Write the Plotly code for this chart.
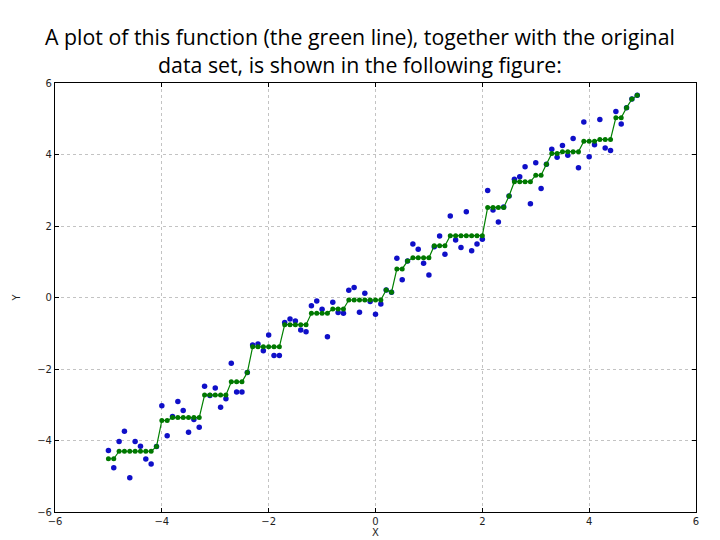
import plotly.graph_objects as go

x_vals = [-5.0, -4.9, -4.8, -4.7, -4.6, -4.5, -4.4, -4.3, -4.2, -4.1,
          -4.0, -3.9, -3.8, -3.7, -3.6, -3.5, -3.4, -3.3, -3.2, -3.1,
          -3.0, -2.9, -2.8, -2.7, -2.6, -2.5, -2.4, -2.3, -2.2, -2.1,
          -2.0, -1.9, -1.8, -1.7, -1.6, -1.5, -1.4, -1.3, -1.2, -1.1,
          -1.0, -0.9, -0.8, -0.7, -0.6, -0.5, -0.4, -0.3, -0.2, -0.1,
          0.0, 0.1, 0.2, 0.3, 0.4, 0.5, 0.6, 0.7, 0.8, 0.9,
          1.0, 1.1, 1.2, 1.3, 1.4, 1.5, 1.6, 1.7, 1.8, 1.9,
          2.0, 2.1, 2.2, 2.3, 2.4, 2.5, 2.6, 2.7, 2.8, 2.9,
          3.0, 3.1, 3.2, 3.3, 3.4, 3.5, 3.6, 3.7, 3.8, 3.9,
          4.0, 4.1, 4.2, 4.3, 4.4, 4.5, 4.6, 4.7, 4.8, 4.9]

data_y = [-4.28, -4.76, -4.03, -3.74, -5.04, -4.03, -4.16, -4.52, -4.66, -4.17,
          -3.03, -3.87, -3.33, -2.91, -3.16, -3.77, -3.41, -3.63, -2.48, -2.74,
          -2.53, -3.07, -2.83, -1.84, -2.64, -2.64, -2.10, -1.33, -1.30, -1.49,
          -1.05, -1.62, -1.62, -0.70, -0.60, -0.66, -0.91, -0.96, -0.23, -0.10,
          -0.33, -1.10, -0.13, -0.42, -0.44, 0.20, 0.28, -0.41, 0.12, -0.11,
          -0.47, -0.18, 0.21, 0.15, 1.10, 0.50, 1.02, 1.50, 1.35, 0.96,
          0.63, 1.42, 1.72, 1.21, 2.28, 1.61, 1.40, 2.40, 1.31, 1.50,
          1.63, 2.99, 2.45, 2.11, 2.53, 2.84, 3.31, 3.38, 3.66, 2.62,
          3.77, 3.05, 3.73, 4.15, 3.92, 4.25, 3.98, 4.45, 3.63, 4.91,
          3.94, 4.27, 4.98, 4.18, 4.11, 5.20, 4.85, 5.31, 5.55, 5.66]

fit_y = [-4.51, -4.51, -4.30, -4.30, -4.30, -4.30, -4.30, -4.30, -4.30, -4.17,
         -3.44, -3.44, -3.36, -3.36, -3.36, -3.36, -3.36, -3.36, -2.73, -2.73,
         -2.73, -2.73, -2.73, -2.36, -2.36, -2.36, -2.10, -1.38, -1.38, -1.38,
         -1.38, -1.38, -1.38, -0.76, -0.76, -0.76, -0.76, -0.76, -0.44, -0.44,
         -0.44, -0.44, -0.32, -0.32, -0.32, -0.07, -0.07, -0.07, -0.07, -0.07,
         -0.07, -0.07, 0.21, 0.15, 0.80, 0.80, 1.02, 1.11, 1.11, 1.11,
         1.11, 1.45, 1.45, 1.45, 1.73, 1.73, 1.73, 1.73, 1.73, 1.73,
         1.73, 2.52, 2.52, 2.52, 2.52, 2.84, 3.24, 3.24, 3.24, 3.24,
         3.42, 3.42, 3.73, 4.03, 4.03, 4.08, 4.08, 4.08, 4.08, 4.37,
         4.37, 4.37, 4.42, 4.42, 4.42, 5.03, 5.03, 5.31, 5.55, 5.66]

tick_vals = [-6, -4, -2, 0, 2, 4, 6]

title_text = ("A plot of this function (the green line), together with the original<br>"
              "data set, is shown in the following figure:")

# The page body has an 8px default margin, so the figure is sized and
# positioned to compensate for it.
W, H = 712, 532

fig = go.Figure()
fig.add_trace(go.Scatter(
    x=x_vals, y=data_y, mode="markers",
    marker=dict(color="rgb(15,15,200)", size=5.5, line=dict(width=0)),
    showlegend=False,
))
fig.add_trace(go.Scatter(
    x=x_vals, y=fit_y, mode="lines+markers",
    line=dict(color="rgb(0,128,0)", width=1.2),
    marker=dict(color="rgb(0,120,0)", size=5, line=dict(width=0)),
    showlegend=False,
))

axis_common = dict(
    range=[-6, 6], tickvals=tick_vals, automargin=False,
    showgrid=True, gridcolor="rgb(195,195,195)", griddash="dot", gridwidth=1,
    zeroline=False, showline=True, linecolor="black", linewidth=1.2, mirror="ticks",
    ticks="inside", ticklen=4, tickcolor="black",
    tickfont=dict(family="DejaVu Sans", size=10, color="rgb(30,30,30)"),
)

fig.update_layout(
    width=W, height=H, autosize=False,
    paper_bgcolor="white", plot_bgcolor="white",
    margin=dict(l=47, r=24, t=75, b=28, autoexpand=False),
    title=dict(text=title_text, x=352 / W, xref="container", xanchor="center",
               y=1 - 37 / H, yref="container", yanchor="middle",
               font=dict(family="Open Sans", size=21.3, color="black")),
    xaxis=dict(**axis_common, title=dict(text="X", standoff=2,
               font=dict(family="DejaVu Sans", size=10, color="rgb(30,30,30)"))),
    yaxis=dict(**axis_common, title=dict(text="Y", standoff=14,
               font=dict(family="DejaVu Sans", size=10, color="rgb(30,30,30)"))),
)

fig.write_html("out.html")
